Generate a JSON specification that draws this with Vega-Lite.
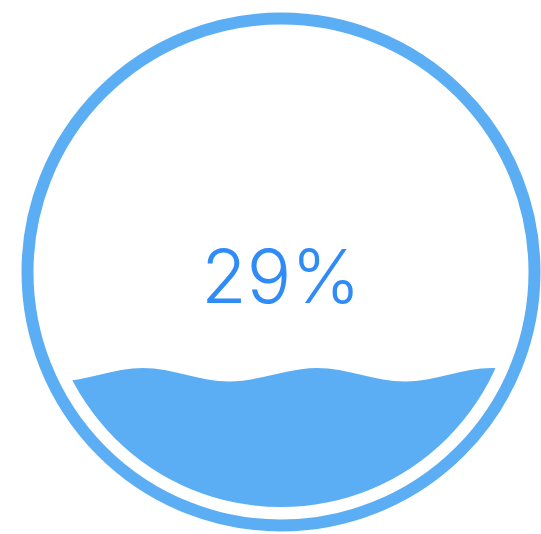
{
  "$schema": "https://vega.github.io/schema/vega-lite/v6.json",
  "width": 541,
  "height": 534,
  "autosize": {"type": "none"},
  "padding": 0,
  "background": "white",
  "config": {"view": {"stroke": null}},
  "datasets": {
    "gauge": [{"cx": 281, "cy": 272, "value": 0.29, "label": "29%"}],
    "wave": [
      {"x": -31, "y": 368},
      {"x": 56, "y": 381.5},
      {"x": 143, "y": 368},
      {"x": 229, "y": 381.5},
      {"x": 317, "y": 368},
      {"x": 405, "y": 381.5},
      {"x": 492, "y": 368},
      {"x": 578, "y": 381.5}
    ]
  },
  "layer": [
    {
      "data": {"name": "gauge"},
      "mark": {"type": "point", "shape": "circle", "filled": true, "opacity": 1, "color": "#5caef4", "size": 220900, "strokeWidth": 0},
      "encoding": {
        "x": {"field": "cx", "type": "quantitative", "scale": {"domain": [0, 541], "nice": false, "zero": false}, "axis": null},
        "y": {"field": "cy", "type": "quantitative", "scale": {"domain": [0, 534], "nice": false, "zero": false, "reverse": true}, "axis": null}
      }
    },
    {
      "data": {"name": "wave"},
      "mark": {"type": "area", "interpolate": "monotone", "color": "white", "opacity": 1},
      "encoding": {
        "x": {"field": "x", "type": "quantitative", "axis": null},
        "y": {"field": "y", "type": "quantitative", "axis": null},
        "y2": {"datum": 0}
      }
    },
    {
      "data": {"name": "gauge"},
      "mark": {"type": "point", "shape": "circle", "filled": false, "opacity": 1, "stroke": "#5caef4", "fill": null, "size": 257049, "strokeWidth": 12},
      "encoding": {
        "x": {"field": "cx", "type": "quantitative", "axis": null},
        "y": {"field": "cy", "type": "quantitative", "axis": null}
      }
    },
    {
      "data": {"name": "gauge"},
      "mark": {"type": "text", "font": "Inter", "fontWeight": 300, "fontSize": 74, "color": "#2f8bf6", "align": "center", "baseline": "alphabetic", "dx": 0, "dy": 31},
      "encoding": {
        "x": {"field": "cx", "type": "quantitative", "axis": null},
        "y": {"field": "cy", "type": "quantitative", "axis": null},
        "text": {"field": "label"}
      }
    }
  ]
}
